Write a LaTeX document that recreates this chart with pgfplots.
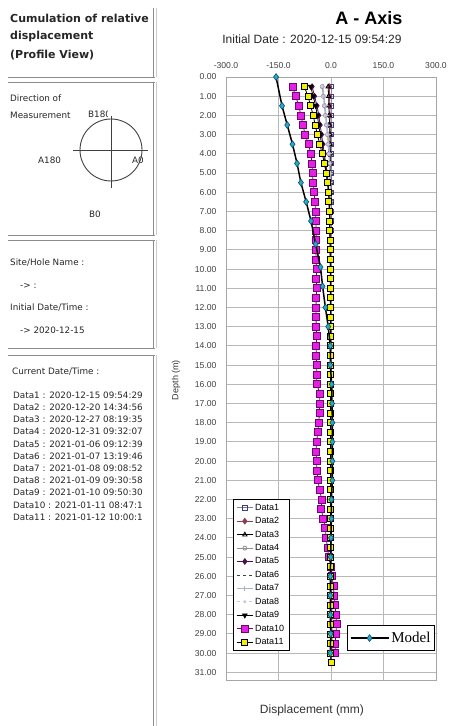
\documentclass[border=0pt]{standalone}
\usepackage{fontspec}
\setmainfont{Liberation Sans}
\newfontfamily\dejavu{DejaVu Sans}
\newfontfamily\serifm{Liberation Serif}
\usepackage{pgfplots}
\pgfplotsset{compat=1.18}
\usepackage{pgfplotstable}

\definecolor{dOne}{HTML}{8080A0}
\definecolor{dOneM}{HTML}{3C3C8C}
\definecolor{dTwo}{HTML}{8C3C50}
\definecolor{dFour}{HTML}{909090}
\definecolor{dFive}{HTML}{4A1048}
\definecolor{dSix}{HTML}{404040}
\definecolor{dSeven}{HTML}{A8B4C8}
\definecolor{dEight}{HTML}{C8C8E8}
\definecolor{dTen}{HTML}{E61EE6}
\definecolor{dTenE}{HTML}{6A0A6A}
\definecolor{dEleven}{HTML}{F0F000}
\definecolor{modelc}{HTML}{22AACC}
\definecolor{modele}{HTML}{104A66}

\pgfplotstableread{
d D1 D2 D3 D4 D5 D6 D7 D8 D9 D10 D11
0.5 0 -4 -8 -25 -54 -6 -23 -26 -58 -110 -76
1.0 0 -4 -7 -22 -47 -5 -20 -23 -51 -101 -66
1.5 0 -3 -6 -19 -40 -5 -17 -20 -44 -92 -58
2.0 0 -3 -5 -16 -35 -4 -14 -17 -39 -86 -51
2.5 0 -3 -4 -13 -31 -3 -11 -14 -35 -80 -45
3.0 0 -2 -3 -10 -27 -3 -8 -11 -31 -74 -39
3.5 0 -2 -3 -8 -23 -2 -6 -9 -27 -64 -32
4.0 0 -2 -2 -6 -19 -2 -4 -7 -22 -58 -25
4.5 0 -1 -2 -4 -15 -1 -3 -5 -17 -54 -19
5.0 0 -1 -1 -3 -11 -1 -2 -4 -13 -53 -14
5.5 0 -1 -1 -2 -8 0 -1 -3 -10 -51 -10
6.0 0 0 -1 -2 -6 0 -1 -2 -7 -48 -7
6.5 0 0 0 -1 -4 0 0 -2 -5 -46 -6
7.0 0 0 0 -1 -3 0 0 -1 -4 -44 -5
7.5 0 0 0 -1 -3 0 0 -1 -3 -43 -4
8.0 0 0 0 0 -2 0 0 -1 -3 -43 -4
8.5 0 0 0 0 -2 0 0 0 -2 -42 -3
9.0 0 0 0 0 -1 0 0 0 -2 -43 -3
9.5 0 0 0 0 -1 0 0 0 -2 -43 -2
10.0 0 0 0 0 -1 0 0 0 -2 -41 -2
10.5 0 0 0 0 -1 0 0 0 -1 -42 -2
11.0 0 1 0 0 -1 0 0 0 -1 -41 -2
11.5 0 1 0 0 -1 0 0 0 -1 -42 -2
12.0 0 1 0 0 -1 0 0 0 -1 -43 -2
12.5 0 1 0 0 -1 0 0 0 -1 -43 -1
13.0 0 1 0 0 -1 0 0 0 -1 -42 -1
13.5 0 1 0 0 0 0 0 0 -1 -41 -1
14.0 0 1 0 0 0 0 0 0 -1 -42 -2
14.5 0 1 0 0 0 0 0 0 -1 -42 -2
15.0 0 1 0 0 0 0 0 0 -1 -41 -1
15.5 0 1 0 0 0 0 0 0 -1 -41 -1
16.0 0 1 0 0 0 0 0 0 -1 -41 -1
16.5 0 1 0 0 0 0 0 0 -1 -31 -1
17.0 0 1 0 0 0 0 0 0 -1 -33 -1
17.5 0 1 0 0 0 0 0 0 -1 -33 -1
18.0 0 1 0 0 0 0 0 0 -1 -35 -1
18.5 0 1 0 0 0 0 0 0 -1 -38 -1
19.0 0 1 0 0 0 0 0 0 -1 -41 -1
19.5 0 1 0 0 0 0 0 0 -1 -43 -1
20.0 0 1 0 0 0 0 0 0 -1 -41 -1
20.5 0 1 0 0 0 0 0 0 -1 -41 -1
21.0 0 1 0 0 0 0 0 0 -1 -37 -1
21.5 0 1 0 0 0 0 0 0 -1 -33 -1
22.0 0 1 0 0 0 0 0 0 -1 -26 -1
22.5 0 1 0 0 0 0 0 0 -1 -28 -1
23.0 0 1 0 0 0 0 0 0 -1 -22 -1
23.5 0 1 0 0 0 0 0 0 -1 -16 -1
24.0 0 1 0 0 0 0 0 0 -1 -14 -1
24.5 0 1 0 0 0 0 0 0 -1 -10 -1
25.0 0 1 0 0 0 0 0 0 -1 -7 -1
25.5 0 2 0 0 1 1 0 0 0 0 -1
26.0 0 2 0 0 1 1 0 0 0 3 -1
26.5 0 2 0 0 1 1 0 0 0 7 -1
27.0 0 2 0 0 1 1 0 0 0 9 -1
27.5 0 2 0 0 1 1 0 0 0 12 -1
28.0 0 3 0 0 1 1 0 0 0 14 -1
28.5 0 3 0 0 1 1 0 0 0 16 -1
29.0 0 3 0 0 1 1 0 0 0 14 -1
29.5 0 3 0 0 1 1 0 0 0 12 -1
30.0 0 3 0 0 1 1 0 0 0 12 -1
30.5 0 0 0 0 0 0 0 0 0 nan 0
}\datatab

\pgfplotstableread{
d x
0 -157
1.5 -140
2.5 -125
3.5 -110
4.5 -97
5.5 -86
6.5 -71
7.5 -57
8.7 -44
9.9 -30
10.9 -24
12 -16
13 -8
14 -2
15 -2
16 2
17 3
18 4
19 4
20 4
21 4
22 1
23 1
24 0
25 -1
26 -2
27 -2
28 -2
29 -1
30 -2
}\modeltab

\begin{document}
\begin{tikzpicture}[x=1pt,y=1pt]
% ---------- left panels ----------
\begin{scope}[draw=black!45, line width=0.8pt]
  \draw (8,649) -- (155,649);
  \draw (153,718) -- (153,649);
  \draw (8,644) -- (155,644);
  \draw (153,644) -- (153,491);
  \draw (8,491) -- (155,491);
  \draw (8,486) -- (155,486);
  \draw (153,486) -- (153,378);
  \draw (8,378) -- (155,378);
  \draw (8,371) -- (155,371);
  \draw (153,371) -- (153,0);
\end{scope}
\begin{scope}[draw=black!20, line width=0.8pt]
  \draw (156,718) -- (156,649);
  \draw (156,644) -- (156,491);
  \draw (156,486) -- (156,378);
  \draw (156,371) -- (156,0);
\end{scope}
\begin{scope}[every node/.style={anchor=west, inner sep=0pt, text=black!85}]
  \node[font=\dejavu\bfseries\fontsize{11}{13}\selectfont] at (10,708) {Cumulation of relative};
  \node[font=\dejavu\bfseries\fontsize{11}{13}\selectfont] at (10,690) {displacement};
  \node[font=\dejavu\bfseries\fontsize{11}{13}\selectfont] at (10,671) {(Profile View)};
  \node[font=\dejavu\fontsize{8.8}{10}\selectfont] at (10,628) {Direction of};
  \node[font=\dejavu\fontsize{8.8}{10}\selectfont] at (10,611) {Measurement};
  \begin{scope}
    \clip (80,600) rectangle (107,625);
    \node[font=\dejavu\fontsize{8.8}{10}\selectfont] at (88,612) {B180};
  \end{scope}
  \begin{scope}
    \clip (30,550) rectangle (62,575);
    \node[font=\dejavu\fontsize{8.8}{10}\selectfont] at (38,566) {A180};
  \end{scope}
  \node[font=\dejavu\fontsize{8.8}{10}\selectfont] at (132,566) {A0};
  \node[font=\dejavu\fontsize{8.8}{10}\selectfont] at (89,512) {B0};
  \node[font=\dejavu\fontsize{8.8}{10}\selectfont] at (10,463) {Site/Hole Name :};
  \node[font=\dejavu\fontsize{8.8}{10}\selectfont] at (20,440) {->\ :};
  \node[font=\dejavu\fontsize{8.8}{10}\selectfont] at (10,418) {Initial Date/Time :};
  \node[font=\dejavu\fontsize{8.8}{10}\selectfont] at (20,396) {->\ 2020-12-15};
  \node[font=\dejavu\fontsize{8.8}{10}\selectfont] at (12,354) {Current Date/Time :};
  \foreach \t [count=\i from 0] in {%
    Data1 : 2020-12-15 09:54:29,
    Data2 : 2020-12-20 14:34:56,
    Data3 : 2020-12-27 08:19:35,
    Data4 : 2020-12-31 09:32:07,
    Data5 : 2021-01-06 09:12:39,
    Data6 : 2021-01-07 13:19:46,
    Data7 : 2021-01-08 09:08:52,
    Data8 : 2021-01-09 09:30:58,
    Data9 : 2021-01-10 09:50:30,
    Data10 : 2021-01-11 08:47:1,
    Data11 : 2021-01-12 10:00:1}
    \node[font=\dejavu\fontsize{8.8}{10}\selectfont] at (13,{331-12.2*\i}) {\t};
\end{scope}
% direction circle
\begin{scope}[draw=black!75, line width=0.9pt]
  \draw (111,576) circle (31);
  \draw (73,576) -- (148,576);
  \draw (111,610) -- (111,538);
\end{scope}

% ---------- titles ----------
\node[font=\bfseries\fontsize{18}{20}\selectfont] at (369,708) {A - Axis};
\node[font=\fontsize{12}{14}\selectfont, text=black!85] at (312,687) {Initial Date : 2020-12-15 09:54:29};
\node[font=\fontsize{12}{14}\selectfont, text=black!80] at (312,16) {Displacement (mm)};
\node[font=\fontsize{9}{11}\selectfont, text=black!80, rotate=90] at (176,346) {Depth (m)};

% ---------- main axis ----------
\begin{axis}[
  at={(226pt,46pt)}, anchor=south west, scale only axis,
  width=210pt, height=603pt,
  xmin=-300, xmax=300, ymin=0, ymax=31.4, y dir=reverse,
  xtick={-300,-150,0,150,300}, ytick={0,1,...,31},
  xticklabel pos=upper,
  major tick length=0pt,
  grid=major, grid style={draw=black!28, line width=0.9pt},
  axis line style={draw=black!35, line width=0.9pt},
  /pgf/number format/assume math mode=true,
  ticklabel style={font=\fontsize{8.6}{10}\selectfont, text=black!75},
  xticklabel style={/pgf/number format/.cd, fixed, fixed zerofill, precision=1, /tikz/.cd},
  yticklabel style={/pgf/number format/.cd, fixed, fixed zerofill, precision=2, /tikz/.cd},
  xticklabel shift=5pt, yticklabel shift=6pt,
  legend style={at={(rel axis cs:0.033,0.048)}, anchor=south west, draw=black, line width=1pt,
    fill=white, font=\fontsize{9}{10}\selectfont, row sep=1.7pt, inner xsep=3pt, inner ysep=2.5pt,
    /tikz/every even column/.append style={column sep=1pt}},
  legend cell align=left,
  legend image code/.code={\draw[mark repeat=2,mark phase=2] plot coordinates {(0pt,0pt) (8pt,0pt) (16pt,0pt)};},
]
\addplot[dOne, line width=0.8pt, mark=square, mark size=2.2pt, mark options={draw=dOneM, fill=white, solid}] table[x=D1,y=d]{\datatab};
\addlegendentry{Data1}
\addplot[dTwo, line width=0.8pt, mark=diamond*, mark size=2.8pt, mark options={solid}] table[x=D2,y=d]{\datatab};
\addlegendentry{Data2}
\addplot[black, line width=0.8pt, mark=triangle, mark size=2.5pt, mark options={fill=white, solid}] table[x=D3,y=d]{\datatab};
\addlegendentry{Data3}
\addplot[dFour, line width=0.8pt, mark=o, mark size=2pt, mark options={fill=white, solid}] table[x=D4,y=d]{\datatab};
\addlegendentry{Data4}
\addplot[dFive, line width=0.8pt, mark=diamond*, mark size=2.8pt, mark options={solid}] table[x=D5,y=d]{\datatab};
\addlegendentry{Data5}
\addplot[dSix, line width=0.8pt, dashed, no marks] table[x=D6,y=d]{\datatab};
\addlegendentry{Data6}
\addplot[dSeven, line width=0.8pt, mark=+, mark size=2.5pt, mark options={solid}] table[x=D7,y=d]{\datatab};
\addlegendentry{Data7}
\addplot[dEight, line width=0.8pt, dashed, mark=*, mark size=1.2pt, mark options={solid}] table[x=D8,y=d]{\datatab};
\addlegendentry{Data8}
\addplot[black, line width=0.8pt, mark=triangle*, mark size=2.6pt, mark options={rotate=180, solid}] table[x=D9,y=d]{\datatab};
\addlegendentry{Data9}
\addplot[dTenE, line width=0.8pt, mark=square*, mark size=3.5pt, mark options={fill=dTen, draw=dTenE, solid}] table[x=D10,y=d]{\datatab};
\addlegendentry{Data10}
\addplot[black, line width=0.8pt, mark=square*, mark size=3pt, mark options={fill=dEleven, draw=black, solid}] table[x=D11,y=d]{\datatab};
\addlegendentry{Data11}
\end{axis}

% ---------- model axis ----------
\begin{axis}[
  at={(226pt,46pt)}, anchor=south west, scale only axis,
  width=210pt, height=603pt,
  xmin=-300, xmax=300, ymin=0, ymax=31.4, y dir=reverse,
  hide axis,
  legend style={at={(rel axis cs:0.995,0.048)}, anchor=south east, draw=black, line width=1pt,
    fill=white, font=\serifm\fontsize{15}{17}\selectfont, inner xsep=2pt, inner ysep=4.5pt},
  legend image code/.code={\draw[mark repeat=2,mark phase=2] plot coordinates {(0pt,0pt) (19pt,0pt) (38pt,0pt)};},
]
\addplot[black, line width=1.5pt, mark=diamond*, mark size=3.4pt, mark options={fill=modelc, draw=modele, line width=0.6pt}] table[x=x,y=d]{\modeltab};
\addlegendentry{Model}
\end{axis}

\pgfresetboundingbox
\useasboundingbox (0,0) rectangle (448,726);
\end{tikzpicture}
\end{document}
